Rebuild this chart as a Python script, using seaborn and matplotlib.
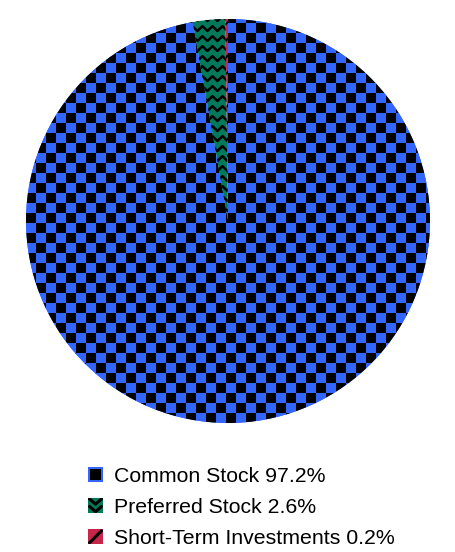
import numpy as np
import matplotlib
matplotlib.use("Agg")
import matplotlib.pyplot as plt
import seaborn as sns
from matplotlib.colors import ListedColormap
from matplotlib.collections import LineCollection
from matplotlib.patches import Rectangle, Patch
from matplotlib.lines import Line2D
from matplotlib.legend_handler import HandlerBase

sns.set_theme(style="white")
plt.rcParams["font.family"] = ["Liberation Sans", "DejaVu Sans"]
plt.rcParams["hatch.linewidth"] = 1.5

# data
labels = ["Common Stock", "Preferred Stock", "Short-Term Investments"]
shares = [97.2, 2.6, 0.2]
colors = ["#3366ff", "#007a5a", "#c8254a"]
kinds = ["checker", "zigzag", "stripe"]

W, H = 456, 552
cx, cy, r = 228, 221, 202
cell = 10 / r  # pattern cell size in data units

fig = plt.figure(figsize=(W / 100, H / 100), dpi=100)
ax = fig.add_axes([(cx - r) / W, (H - cy - r) / H, 2 * r / W, 2 * r / H])

wedges, _ = ax.pie(shares, colors=colors, startangle=90, counterclock=False,
                   radius=1, wedgeprops=dict(linewidth=0))

# checkerboard on common stock
n = int(2 / cell) + 2
board = np.add.outer(np.arange(n), np.arange(n)) % 2
ax.imshow(board, cmap=ListedColormap([colors[0], "black"]),
          extent=(-1, -1 + n * cell, -1, -1 + n * cell),
          interpolation="nearest", clip_path=wedges[0], zorder=2)

# zigzag on preferred stock
segs = []
xs = np.arange(-0.3, 0.1, cell / 2)
for y0 in np.arange(0.0, 1.05, cell):
    ys = y0 + (np.arange(len(xs)) % 2) * 0.024
    segs.append(np.column_stack([xs, ys]))
zz = LineCollection(segs, colors="black", linewidths=1.8, zorder=3)
ax.add_collection(zz)
zz.set_clip_path(wedges[1])

# stripes on short-term
wedges[2].set_hatch("//")
wedges[2].set_edgecolor("black")
wedges[2].set_linewidth(0)

ax.set_xlim(-1, 1)
ax.set_ylim(-1, 1)
ax.set_aspect("equal")
ax.axis("off")


class SwatchHandler(HandlerBase):
    def __init__(self, kind, color):
        super().__init__()
        self.kind = kind
        self.color = color

    def create_artists(self, legend, orig_handle, xdescent, ydescent,
                       width, height, fontsize, trans):
        x0, y0, w, h = -xdescent, -ydescent, width, height
        base = Rectangle((x0, y0), w, h, facecolor=self.color,
                         edgecolor="none", transform=trans)
        arts = [base]
        if self.kind == "checker":
            p = w * 0.16
            arts.append(Rectangle((x0 + p, y0 + p), w - 2 * p, h - 2 * p,
                                  facecolor="black", edgecolor="none",
                                  transform=trans))
        elif self.kind == "zigzag":
            for dy in (0.6, 0.1):
                ln = Line2D([x0 + 0.1 * w, x0 + 0.5 * w, x0 + 0.9 * w],
                            [y0 + (dy + 0.35) * h, y0 + dy * h, y0 + (dy + 0.35) * h],
                            color="black", lw=2.2, transform=trans)
                ln.set_clip_path(base)
                arts.append(ln)
        else:
            ln = Line2D([x0 + 0.1 * w, x0 + 0.9 * w], [y0 + 0.1 * h, y0 + 0.9 * h],
                        color="black", lw=2.2, transform=trans)
            ln.set_clip_path(base)
            arts.append(ln)
        return arts


handles = [Patch(facecolor=c) for c in colors]
texts = [f"{l} {v}%" for l, v in zip(labels, shares)]
hmap = {hd: SwatchHandler(k, c) for hd, k, c in zip(handles, kinds, colors)}

fig.legend(handles, texts, handler_map=hmap, loc="upper left",
           bbox_to_anchor=(88 / W, (H - 467) / H), frameon=False,
           borderpad=0, borderaxespad=0, fontsize=15.3,
           handlelength=0.706, handleheight=0.706, handletextpad=0.52,
           labelspacing=0.57, labelcolor="black")

fig.savefig("out.png", dpi=100)
